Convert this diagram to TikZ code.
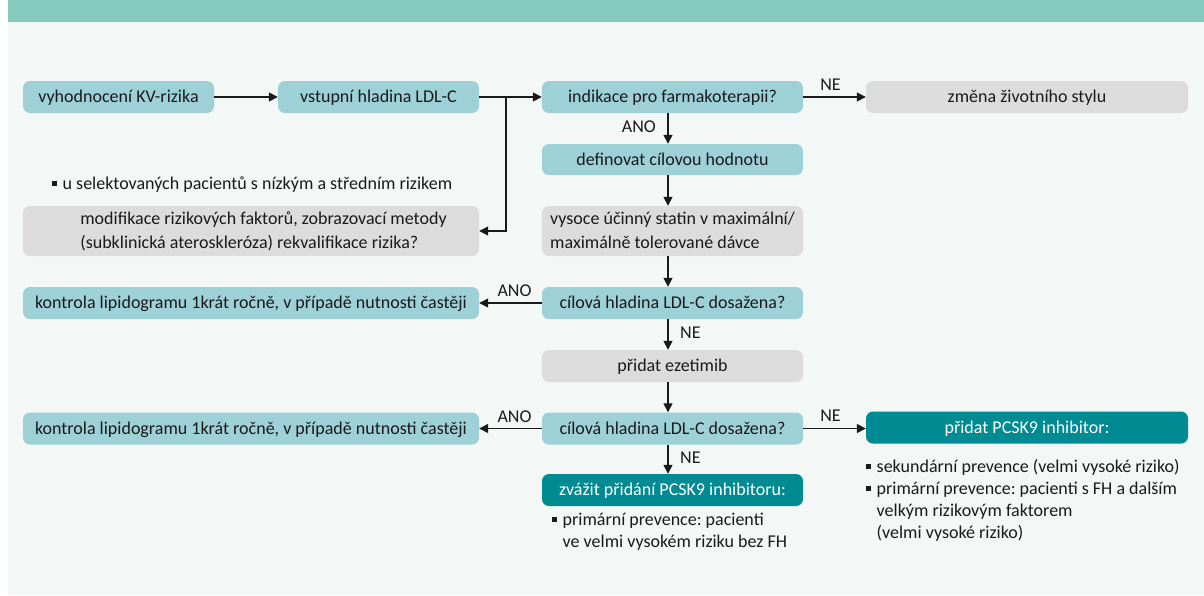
\documentclass[tikz,border=0pt]{standalone}
\usepackage{fontspec}
\setmainfont{Carlito}
\frenchspacing
\usetikzlibrary{arrows.meta}
\definecolor{hdr}{HTML}{86CABD}
\definecolor{panel}{HTML}{F3F7F6}
\definecolor{lteal}{HTML}{9DD0D7}
\definecolor{lgray}{HTML}{DCDCDC}
\definecolor{dteal}{HTML}{008A91}
\definecolor{txt}{HTML}{1A1A1A}
\newcommand{\bul}{\raisebox{3.2pt}{\rule{4.5pt}{4.5pt}}}
\tikzset{
  box/.style={rounded corners=7pt, minimum height=32pt, inner sep=0pt,
    font=\fontsize{18}{24}\selectfont, text=txt, text height=15.5pt, text depth=4pt},
  twoline/.style={text height=39.5pt, text depth=4pt, minimum height=50pt},
  tealbox/.style={box, fill=lteal},
  greybox/.style={box, fill=lgray},
  darkbox/.style={box, fill=dteal, text=white},
  arr/.style={line width=1.5pt, draw=txt, -{Triangle[length=9pt,width=9pt]}},
  lbl/.style={font=\fontsize{18}{22}\selectfont, text=txt, inner sep=0pt},
  bullets/.style={font=\fontsize{18}{22}\selectfont, text=txt, inner sep=0pt, anchor=base west}
}
\begin{document}
\begin{tikzpicture}[x=1pt,y=-1pt]
\useasboundingbox (0,0) rectangle (1204,595);
\fill[white] (0,0) rectangle (1204,595);
\fill[panel] (8,22) rectangle (1204,595);
\fill[hdr] (8,0) rectangle (1204,22);

% top row
\node[tealbox, minimum width=191pt] (b1) at (118.5,97) {vyhodnocení KV-rizika};
\node[tealbox, minimum width=201pt] (b2) at (378.5,97) {vstupní hladina LDL-C};
\node[tealbox, minimum width=261pt] (ind) at (672.5,97) {indikace pro farmakoterapii?};
\node[greybox, minimum width=322pt] (zm) at (1027,97) {změna životního stylu};

% center column
\node[tealbox, minimum width=261pt, minimum height=31pt] (def) at (672.5,159.5) {definovat cílovou hodnotu};
\node[greybox, twoline, minimum width=261pt] (st) at (672.5,231)
  {\begin{tabular}[b]{@{}l@{}}vysoce účinný statin v maximální/\\maximálně tolerované dávce\end{tabular}};
\node[tealbox, minimum width=261pt] (c1) at (672.5,303) {cílová hladina LDL-C dosažena?};
\node[greybox, minimum width=261pt] (ez) at (672.5,366) {přidat ezetimib};
\node[tealbox, minimum width=261pt] (c2) at (672.5,428.5) {cílová hladina LDL-C dosažena?};
\node[darkbox, minimum width=261pt] (zv) at (672.5,490) {zvážit přidání PCSK9 inhibitoru:};

% left column
\node[greybox, twoline, minimum width=456pt] (mod) at (251,231)
  {\begin{tabular}[b]{@{\hspace{25pt}}l@{}}modifikace rizikových faktorů, zobrazovací metody\\(subklinická ateroskleróza) rekvalifikace rizika?\end{tabular}};
\node[tealbox, minimum width=456pt] (k1) at (251,303) {kontrola lipidogramu 1krát ročně, v případě nutnosti častěji};
\node[tealbox, minimum width=456pt] (k2) at (251,428.5) {kontrola lipidogramu 1krát ročně, v případě nutnosti častěji};

% right
\node[darkbox, minimum width=322pt] (pc) at (1027,427.5) {přidat PCSK9 inhibitor:};

% bullet texts
\node[bullets] (bl1) at (52,189) {\begin{tabular}[t]{@{}l@{\hspace{6pt}}l@{}}\bul & u selektovaných pacientů s nízkým a středním rizikem\end{tabular}};
\node[bullets] (bl2) at (552,525) {\begin{tabular}[t]{@{}l@{\hspace{6pt}}l@{}}\bul & primární prevence: pacienti\\ & ve velmi vysokém riziku bez FH\end{tabular}};
\node[bullets] (bl3) at (866,472) {\begin{tabular}[t]{@{}l@{\hspace{6pt}}l@{}}\bul & sekundární prevence (velmi vysoké riziko)\\\bul & primární prevence: pacienti s FH a dalším\\ & velkým rizikovým faktorem\\ & (velmi vysoké riziko)\end{tabular}};

% connectors
\coordinate (br) at (506,97);
\draw[arr] (b1) -- (b2);
\draw[arr] (b2) -- (ind);
\draw[arr] (br) |- (mod.east);
\draw[arr] (ind) -- (zm);
\draw[arr] ([xshift=-4.5pt]ind.south) -- ([xshift=-4.5pt]def.north);
\draw[arr] ([xshift=-4.5pt]def.south) -- ([xshift=-4.5pt]st.north);
\draw[arr] ([xshift=-4.5pt]st.south) -- ([xshift=-4.5pt]c1.north);
\draw[arr] (c1) -- (k1);
\draw[arr] ([xshift=-4.5pt]c1.south) -- ([xshift=-4.5pt]ez.north);
\draw[arr] ([xshift=-4.5pt]ez.south) -- ([xshift=-4.5pt]c2.north);
\draw[arr] (c2) -- (k2);
\draw[arr] (c2.east) -- (c2.east -| pc.west);
\draw[arr] ([xshift=-4.5pt]c2.south) -- ([xshift=-4.5pt]zv.north);

% labels
\node[lbl, anchor=base] (ne1) at (830.5,90) {NE};
\node[lbl, anchor=base east] (ano1) at (656,132) {ANO};
\node[lbl, anchor=base] (ano2) at (514.5,296) {ANO};
\node[lbl, anchor=base west] (ne2) at (680,338) {NE};
\node[lbl, anchor=base] (ano3) at (514.5,422) {ANO};
\node[lbl, anchor=base] (ne3) at (830.5,421) {NE};
\node[lbl, anchor=base west] (ne4) at (680,463) {NE};
\end{tikzpicture}
\end{document}
